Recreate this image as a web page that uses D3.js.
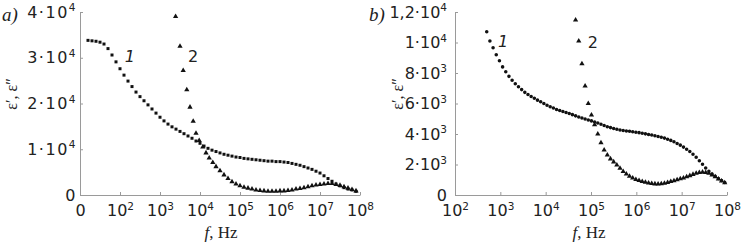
<!DOCTYPE html>
<html>
<head>
<meta charset="utf-8">
<script src="https://cdn.jsdelivr.net/npm/d3@7"></script>
<style>
  body { margin: 0; background: #fff; }
  svg { display: block; }
</style>
</head>
<body>
<svg id="chart" width="753" height="243"></svg>
<script>
// panel a) -- [log10 f, eps]
var leftCurve1 = [
  [1.2, 33800], [1.3, 33700], [1.4, 33600], [1.5, 33400], [1.6, 33000], [1.7, 32000],
  [1.8, 30600], [1.9, 29100], [2.0, 27600], [2.1, 26200], [2.2, 24900], [2.3, 23700],
  [2.4, 22500], [2.5, 21500], [2.6, 20600], [2.7, 19700], [2.8, 18800], [2.9, 17900],
  [3.0, 17000], [3.1, 16200], [3.2, 15500], [3.3, 14900], [3.4, 14400], [3.5, 13900],
  [3.6, 13400], [3.7, 12900], [3.8, 12400], [3.9, 11800], [4.0, 11300], [4.1, 10700],
  [4.2, 10200], [4.3, 9800], [4.4, 9500], [4.5, 9200], [4.6, 8900], [4.7, 8700],
  [4.8, 8500], [4.9, 8300], [5.0, 8200], [5.1, 8000], [5.2, 7900], [5.3, 7800],
  [5.4, 7700], [5.5, 7600], [5.6, 7500], [5.7, 7400], [5.8, 7400], [5.9, 7300],
  [6.0, 7300], [6.1, 7200], [6.2, 7100], [6.3, 6900], [6.4, 6700], [6.5, 6500],
  [6.6, 6200], [6.7, 5900], [6.8, 5600], [6.9, 5200], [7.0, 4800], [7.1, 4200],
  [7.2, 3600], [7.3, 3000], [7.4, 2400], [7.5, 2000], [7.6, 1600], [7.7, 1300],
  [7.8, 1100], [7.9, 800]
];
var leftCurve2 = [
  [3.39, 39000], [3.50, 32500], [3.58, 27200], [3.67, 23000], [3.75, 19200], [3.83, 16100],
  [3.90, 13500], [3.98, 11900], [4.07, 10500], [4.15, 9200], [4.23, 8100], [4.32, 7100],
  [4.40, 6200], [4.5, 5300], [4.6, 4400], [4.7, 3600], [4.8, 2900], [4.9, 2400],
  [5.0, 2000], [5.1, 1700], [5.2, 1500], [5.3, 1300], [5.4, 1100], [5.5, 1000],
  [5.6, 900], [5.7, 800], [5.8, 800], [5.9, 800], [6.0, 900], [6.1, 900],
  [6.2, 1000], [6.3, 1100], [6.4, 1300], [6.5, 1400], [6.6, 1600], [6.7, 1800],
  [6.8, 2000], [6.9, 2200], [7.0, 2300], [7.1, 2400], [7.2, 2500], [7.3, 2500],
  [7.4, 2300], [7.5, 2100], [7.6, 1800], [7.7, 1500], [7.8, 1200], [7.9, 900]
];

// panel b) -- [log10 f, eps]
var rightCurve1 = [
  [2.70, 10700], [2.77, 10100], [2.84, 9650], [2.91, 9200], [2.98, 8800], [3.05, 8400],
  [3.12, 8080], [3.19, 7780], [3.26, 7530], [3.33, 7300], [3.40, 7100], [3.47, 6910],
  [3.54, 6730], [3.61, 6590], [3.68, 6460], [3.75, 6340], [3.82, 6220], [3.89, 6110],
  [3.96, 6000], [4.03, 5890], [4.10, 5790], [4.17, 5700], [4.24, 5610], [4.31, 5540],
  [4.38, 5470], [4.45, 5410], [4.52, 5340], [4.59, 5270], [4.66, 5190], [4.73, 5120],
  [4.80, 5050], [4.87, 4980], [4.94, 4920], [5.01, 4860], [5.08, 4790], [5.15, 4720],
  [5.22, 4640], [5.29, 4560], [5.36, 4480], [5.43, 4420], [5.50, 4360], [5.57, 4310],
  [5.64, 4260], [5.71, 4230], [5.78, 4200], [5.85, 4180], [5.92, 4150], [5.99, 4120],
  [6.06, 4090], [6.13, 4050], [6.20, 4010], [6.27, 3970], [6.34, 3930], [6.41, 3890],
  [6.48, 3840], [6.55, 3790], [6.62, 3730], [6.69, 3660], [6.76, 3580], [6.83, 3490],
  [6.90, 3380], [6.97, 3270], [7.04, 3140], [7.11, 3000], [7.18, 2850], [7.25, 2670],
  [7.32, 2470], [7.39, 2250], [7.46, 2020], [7.53, 1770], [7.60, 1550], [7.67, 1380],
  [7.74, 1230], [7.81, 1080], [7.88, 950], [7.95, 820]
];
var rightCurve2 = [
  [4.66, 11480], [4.73, 10100], [4.80, 8600], [4.87, 7150], [4.94, 6000], [5.01, 5250],
  [5.08, 4600], [5.15, 4000], [5.22, 3420], [5.29, 2950], [5.36, 2620], [5.43, 2370],
  [5.50, 2170], [5.57, 1970], [5.64, 1750], [5.71, 1540], [5.78, 1380], [5.85, 1230],
  [5.92, 1110], [5.99, 1020], [6.06, 950], [6.13, 890], [6.20, 840], [6.27, 790],
  [6.34, 750], [6.41, 730], [6.48, 720], [6.55, 740], [6.62, 770], [6.69, 820],
  [6.76, 880], [6.83, 940], [6.90, 1000], [6.97, 1060], [7.04, 1120], [7.11, 1190],
  [7.18, 1270], [7.25, 1350], [7.32, 1420], [7.39, 1470], [7.46, 1500], [7.53, 1480],
  [7.60, 1420], [7.67, 1320], [7.74, 1190], [7.81, 1050], [7.88, 920], [7.95, 800]
];

// ticks: values and labels as [base, superscript]
var leftXTicks = [1e1, 1e2, 1e3, 1e4, 1e5, 1e6, 1e7, 1e8];
var leftXLabels = [["0", ""], ["10", "2"], ["10", "3"], ["10", "4"], ["10", "5"], ["10", "6"], ["10", "7"], ["10", "8"]];
var leftYTicks = [0, 10000, 20000, 30000, 40000];
var leftYLabels = [["0", ""], ["1\u00b710", "4"], ["2\u00b710", "4"], ["3\u00b710", "4"], ["4\u00b710", "4"]];

var rightXTicks = [1e2, 1e3, 1e4, 1e5, 1e6, 1e7, 1e8];
var rightXLabels = [["10", "2"], ["10", "3"], ["10", "4"], ["10", "5"], ["10", "6"], ["10", "7"], ["10", "8"]];
var rightYTicks = [0, 2000, 4000, 6000, 8000, 10000, 12000];
var rightYLabels = [["0", ""], ["2\u00b710", "3"], ["4\u00b710", "3"], ["6\u00b710", "3"], ["8\u00b710", "3"], ["1\u00b710", "4"], ["1,2\u00b710", "4"]];

var svg = d3.select("#chart");
var sans = "'DejaVu Sans', sans-serif";
var serif = "'Liberation Serif', 'Times New Roman', serif";

var supLabel = function(sel, labels) {
  sel.selectAll(".tick text").each(function(d, i) {
    var t = d3.select(this).text("");
    t.append("tspan").text(labels[i][0]);
    if (labels[i][1]) {
      t.append("tspan").attr("font-size", 10.5).attr("dy", -6.5).text(labels[i][1]);
    }
  });
};

var panel = function(p) {
  var x = d3.scaleLog().domain(p.xDomain).range([p.left, p.right]);
  var y = d3.scaleLinear().domain(p.yDomain).range([195, 12]);
  var g = svg.append("g");

  var xAxis = g.append("g")
    .attr("transform", "translate(0,195)")
    .call(d3.axisBottom(x).tickValues(p.xTicks).tickSize(-3).tickSizeOuter(0).tickPadding(10).tickFormat(""));
  supLabel(xAxis, p.xLabels);

  var yAxis = g.append("g")
    .attr("transform", "translate(" + p.left + ",0)")
    .call(d3.axisLeft(y).tickValues(p.yTicks).tickSize(-3).tickSizeOuter(0).tickPadding(p.yPad).tickFormat(""));
  supLabel(yAxis, p.yLabels);
  yAxis.selectAll(".tick text").attr("letter-spacing", p.ySpacing);

  g.selectAll(".domain, .tick line").attr("stroke", "#9a9a9a");
  g.selectAll(".tick text").attr("font-family", sans).attr("font-size", 16).attr("fill", "#222");

  // curve 1
  g.append("g").selectAll("path").data(p.curve1).enter()
    .append("path")
    .attr("d", d3.symbol().type(p.mark1).size(p.size1))
    .attr("transform", function(d) { return "translate(" + x(Math.pow(10, d[0])) + "," + y(d[1]) + ")"; })
    .attr("fill", "#111");
  // curve 2
  g.append("g").selectAll("path").data(p.curve2).enter()
    .append("path")
    .attr("d", d3.symbol().type(d3.symbolTriangle).size(12))
    .attr("transform", function(d) { return "translate(" + x(Math.pow(10, d[0])) + "," + y(d[1]) + ")"; })
    .attr("fill", "#111");

  // curve numbers
  g.append("text")
    .attr("x", x(Math.pow(10, p.num1[0]))).attr("y", y(p.num1[1]))
    .attr("font-family", sans).attr("font-size", 16).attr("font-style", "italic").attr("fill", "#222")
    .text("1");
  g.append("text")
    .attr("x", x(Math.pow(10, p.num2[0]))).attr("y", y(p.num2[1]))
    .attr("font-family", sans).attr("font-size", 16).attr("fill", "#222")
    .text("2");

  // panel letter
  g.append("text")
    .attr("x", p.letterX).attr("y", 21)
    .attr("font-family", serif).attr("font-size", 19).attr("font-style", "italic").attr("fill", "#222")
    .text(p.letter);

  // y title
  g.append("text")
    .attr("transform", "translate(" + p.yTitleX + ",94) rotate(-90)")
    .attr("text-anchor", "middle")
    .attr("font-family", serif).attr("font-size", 16).attr("fill", "#222")
    .text("\u03b5\u2032, \u03b5\u2033");

  // x title
  var xt = g.append("text")
    .attr("x", p.xTitleX).attr("y", 238)
    .attr("text-anchor", "middle")
    .attr("font-family", serif).attr("font-size", 17).attr("fill", "#222");
  xt.append("tspan").attr("font-style", "italic").text("f");
  xt.append("tspan").text(", Hz");
};

panel({
  xDomain: [1e1, 1e8], yDomain: [0, 40000], left: 80, right: 360,
  xTicks: leftXTicks, xLabels: leftXLabels, yTicks: leftYTicks, yLabels: leftYLabels,
  yPad: 3, ySpacing: 1.5,
  curve1: leftCurve1, curve2: leftCurve2, mark1: d3.symbolSquare, size1: 9,
  num1: [2.12, 29000], num2: [3.7, 29000],
  letter: "a)", letterX: 2, yTitleX: 17, xTitleX: 221
});

panel({
  xDomain: [1e2, 1e8], yDomain: [0, 12000], left: 455, right: 727,
  xTicks: rightXTicks, xLabels: rightXLabels, yTicks: rightYTicks, yLabels: rightYLabels,
  yPad: 8, ySpacing: 0,
  curve1: rightCurve1, curve2: rightCurve2, mark1: d3.symbolCircle, size1: 10,
  num1: [2.95, 9700], num2: [4.93, 9650],
  letter: "b)", letterX: 369, yTitleX: 403, xTitleX: 589
});
</script>
</body>
</html>
